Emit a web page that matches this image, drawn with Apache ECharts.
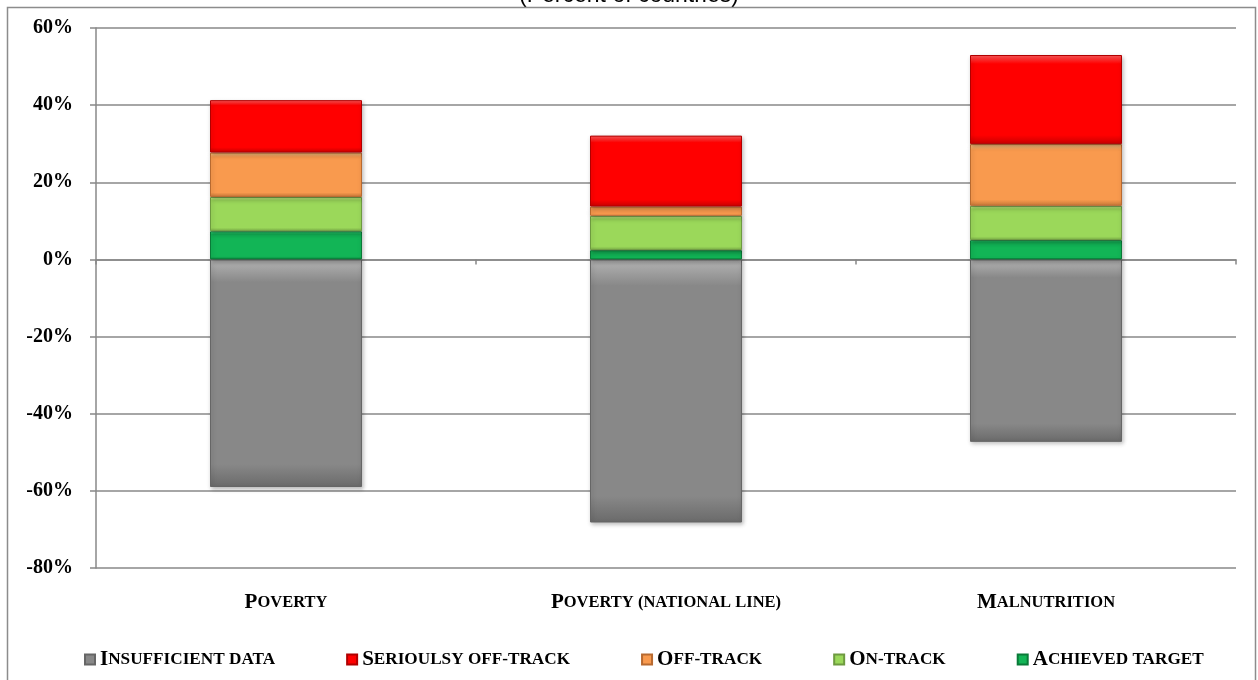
<!DOCTYPE html>
<html>
<head>
<meta charset="utf-8">
<script src="https://cdn.jsdelivr.net/npm/echarts@6/dist/echarts.min.js"></script>
<style>
html,body{margin:0;padding:0;background:#fff;}
#chart{width:1258px;height:680px;}
</style>
</head>
<body>
<div id="chart"></div>
<script>
// ---- data ----
var categories = ['Poverty', 'Poverty (national line)', 'Malnutrition'];
var categoryLabels = [['P', 'OVERTY'], ['P', 'OVERTY (NATIONAL LINE)'], ['M', 'ALNUTRITION']];
var insufficientData = [-59.0, -68.2, -47.3];
var achievedTarget = [7.3, 2.4, 5.0];
var onTrack = [8.9, 8.9, 8.9];
var offTrack = [11.5, 2.4, 16.0];
var seriouslyOffTrack = [13.6, 18.4, 23.1];
var seriesNames = ['Insufficient data', 'Serioulsy off-track', 'Off-track', 'On-track', 'Achieved target'];
var legendLabels = {
  'Insufficient data': ['I', 'NSUFFICIENT DATA'],
  'Serioulsy off-track': ['S', 'ERIOULSY OFF-TRACK'],
  'Off-track': ['O', 'FF-TRACK'],
  'On-track': ['O', 'N-TRACK'],
  'Achieved target': ['A', 'CHIEVED TARGET']
};
var titleText = '(Percent of countries)';

// ---- styling ----
var serif = "'Liberation Serif', 'Times New Roman', serif";
function grad(light, base, dark) {
  return {
    type: 'linear', x: 0, y: 0, x2: 0, y2: 1,
    colorStops: [
      {offset: 0, color: light},
      {offset: 0.1, color: base},
      {offset: 0.9, color: base},
      {offset: 1, color: dark}
    ]
  };
}
var styles = {
  'Insufficient data': {color: grad('#b4b4b4', '#888888', '#6a6a6a'), border: '#666666', legend: '#888888'},
  'Serioulsy off-track': {color: grad('#ff5a5a', '#ff0000', '#c80000'), border: '#b00000', legend: '#ff0000'},
  'Off-track': {color: grad('#ffcc88', '#f99a4e', '#c87838'), border: '#b86a30', legend: '#f99a4e'},
  'On-track': {color: grad('#d0f590', '#9bd85a', '#78a845'), border: '#6e9a40', legend: '#9bd85a'},
  'Achieved target': {color: grad('#40f090', '#12b556', '#0b8a40'), border: '#0a7a38', legend: '#12b556'}
};

function barSeries(name, values) {
  var s = styles[name];
  return {
    name: name,
    type: 'bar',
    stack: 'total',
    barWidth: '40%',
    data: values,
    itemStyle: {
      color: s.color,
      borderColor: s.border,
      borderWidth: 1,
      shadowColor: 'rgba(0,0,0,0.25)',
      shadowBlur: 4,
      shadowOffsetX: 1,
      shadowOffsetY: 2
    },
    emphasis: {disabled: true}
  };
}

var chart = echarts.init(document.getElementById('chart'));
var option = {
  backgroundColor: '#ffffff',
  animation: false,
  color: seriesNames.map(function (n) { return styles[n].legend; }),
  title: {
    text: titleText,
    left: 'center',
    top: -21,
    textStyle: {fontFamily: "'Liberation Sans', Arial, sans-serif", fontSize: 23, fontWeight: 'normal', color: '#000'}
  },
  graphic: [{
    type: 'rect',
    shape: {x: 7.5, y: 7.5, width: 1248, height: 700},
    style: {fill: 'none', stroke: '#8c8c8c', lineWidth: 1.5},
    z: 100, silent: true
  }],
  legend: {
    data: seriesNames,
    top: 644,
    left: 79,
    itemWidth: 10,
    itemHeight: 10,
    itemGap: 71,
    icon: 'rect',
    formatter: function (name) {
      var p = legendLabels[name];
      return '{b|' + p[0] + '}{s|' + p[1] + '}';
    },
    textStyle: {
      color: '#000',
      rich: {
        b: {fontFamily: serif, fontWeight: 'bold', fontSize: 21, color: '#000'},
        s: {fontFamily: serif, fontWeight: 'bold', fontSize: 17.2, color: '#000'}
      }
    }
  },
  grid: {left: 96, right: 22, top: 28, bottom: 112},
  xAxis: [{
    type: 'category',
    data: categories,
    position: 'bottom',
    axisLine: {show: false, onZero: false},
    axisTick: {show: false},
    axisLabel: {
      margin: 24,
      formatter: function (v, i) {
        var p = categoryLabels[i];
        return '{b|' + p[0] + '}{s|' + p[1] + '}';
      },
      rich: {
        b: {fontFamily: serif, fontWeight: 'bold', fontSize: 21, color: '#000'},
        s: {fontFamily: serif, fontWeight: 'bold', fontSize: 16.5, color: '#000'}
      }
    }
  }, {
    type: 'category',
    data: categories,
    position: 'bottom',
    axisLine: {show: true, onZero: true, lineStyle: {color: '#888888', width: 1.5}},
    axisTick: {show: true, length: 5, lineStyle: {color: '#888888', width: 1.5}},
    axisLabel: {show: false},
    splitLine: {show: false}
  }],
  yAxis: {
    type: 'value',
    min: -80,
    max: 60,
    interval: 20,
    axisLine: {show: true, lineStyle: {color: '#888888', width: 1.5}},
    axisTick: {show: true, length: 6, lineStyle: {color: '#888888', width: 1.5}},
    axisLabel: {
      formatter: '{value}%',
      margin: 23,
      fontFamily: serif,
      fontWeight: 'bold',
      fontSize: 20,
      color: '#000'
    },
    splitLine: {show: true, lineStyle: {color: '#888888', width: 1.5}}
  },
  series: [
    barSeries('Insufficient data', insufficientData),
    barSeries('Achieved target', achievedTarget),
    barSeries('On-track', onTrack),
    barSeries('Off-track', offTrack),
    barSeries('Serioulsy off-track', seriouslyOffTrack)
  ]
};
chart.setOption(option);
</script>
</body>
</html>
